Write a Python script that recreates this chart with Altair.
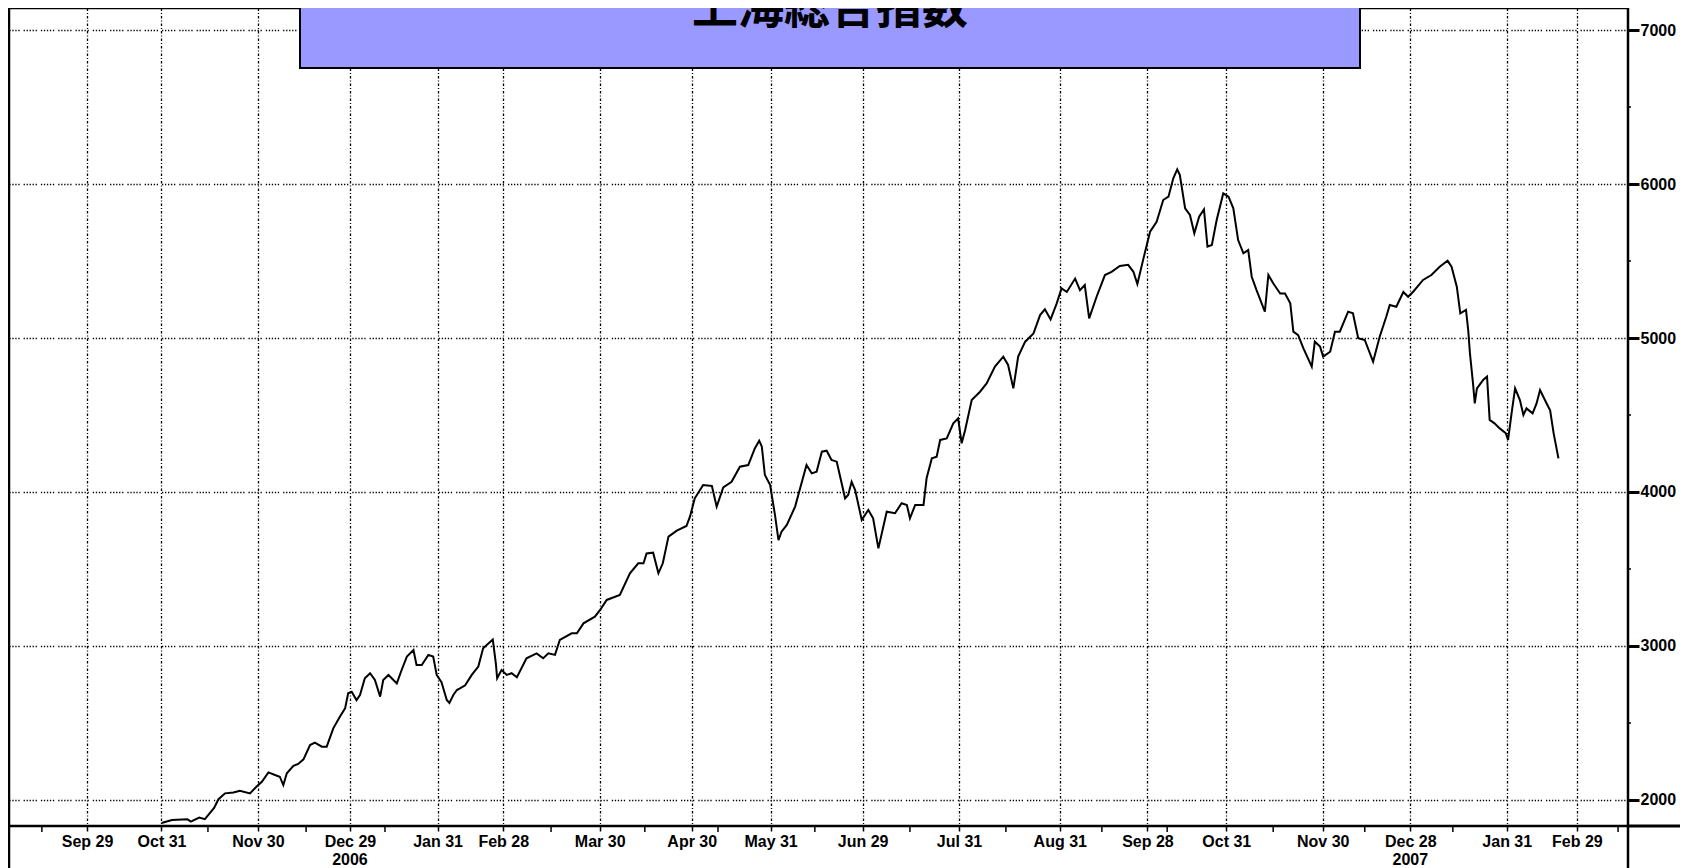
import altair as alt
import pandas as pd

# Trading-session index (0 = Sep 29 2006) and closing values
session = [17.0, 19.4, 22.9, 23.7, 25.6, 26.9, 29.0, 30.0, 31.5, 33.4, 34.9, 37.2, 38.7, 39.9, 41.4, 42.9,
           44.0, 44.8, 45.6, 47.1, 48.2, 49.4, 50.9, 52.0, 53.6, 54.7, 56.2, 57.7, 58.9, 59.6, 60.4, 61.5,
           62.3, 63.4, 64.6, 65.7, 66.9, 67.6, 68.8, 70.7, 71.8, 73.0, 74.5, 75.2, 76.4, 77.9, 79.0, 79.8,
           80.9, 82.1, 82.7, 83.6, 84.4, 85.1, 86.3, 87.8, 89.3, 90.4, 92.6, 93.3, 93.6, 94.6, 95.8, 96.9,
           98.1, 100.3, 102.6, 104.1, 105.3, 106.8, 107.9, 110.6, 111.8, 113.3, 115.9, 117.1, 118.6, 121.6,
           123.9, 125.8, 127.0, 127.7, 129.2, 130.4, 131.4, 132.7, 134.6, 136.8, 137.6, 138.7, 140.6, 142.6,
           143.7, 145.2, 147.1, 149.0, 150.9, 152.4, 153.4, 154.0, 154.7, 155.9, 157.0, 157.8, 158.5, 159.7,
           161.6, 164.2, 165.4, 166.5, 167.7, 168.8, 169.9, 171.1, 173.0, 173.7, 174.5, 175.3, 176.8, 178.3,
           179.4, 180.6, 182.5, 184.4, 185.9, 187.1, 187.8, 189.0, 190.9, 191.6, 192.8, 193.9, 194.7, 196.2,
           197.7, 198.8, 199.6, 200.4, 201.9, 203.8, 205.3, 207.2, 209.1, 210.2, 211.4, 212.5, 214.1, 216.0,
           217.5, 218.6, 219.9, 221.3, 222.4, 223.6, 225.5, 226.6, 227.7, 228.7, 230.4, 232.3, 233.8, 235.7,
           237.6, 238.8, 239.7, 241.1, 242.6, 244.1, 245.6, 246.8, 247.9, 248.8, 249.4, 250.6, 251.7, 252.7,
           253.8, 254.9, 255.7, 256.7, 257.8, 259.3, 260.5, 261.6, 262.7, 263.9, 265.0, 265.8, 266.9, 268.8,
           269.6, 270.7, 272.3, 273.4, 274.6, 275.3, 276.4, 277.6, 279.5, 280.2, 281.4, 282.1, 283.7, 284.8,
           285.9, 287.8, 288.9, 290.1, 291.6, 293.5, 295.0, 296.5, 297.3, 298.8, 300.4, 301.5, 302.6, 304.9,
           306.8, 308.7, 310.5, 311.4, 312.6, 313.4, 314.7, 315.2, 315.6, 316.3, 316.7, 317.2, 318.6, 319.5,
           320.1, 321.2, 322.4, 323.8, 324.3, 325.1, 325.9, 327.0, 327.8, 328.5, 329.9, 330.8, 331.6, 333.1,
           333.9, 334.7, 335.8]
close = [1850, 1870, 1875, 1859, 1886, 1875, 1948, 2005, 2043, 2049, 2060, 2043, 2087, 2118, 2179, 2162,
         2151, 2097, 2173, 2221, 2234, 2264, 2357, 2372, 2346, 2346, 2465, 2541, 2595, 2693, 2703, 2649,
         2682, 2790, 2823, 2779, 2671, 2779, 2812, 2757, 2844, 2931, 2974, 2877, 2877, 2942, 2931, 2812,
         2765, 2649, 2630, 2682, 2714, 2725, 2745, 2812, 2866, 2985, 3042, 2887, 2790, 2844, 2812, 2823,
         2797, 2920, 2952, 2920, 2952, 2942, 3039, 3082, 3082, 3147, 3190, 3234, 3299, 3331,
         3472, 3537, 3537, 3601, 3606, 3472, 3537, 3710, 3749, 3779, 3840, 3959, 4045, 4039,
         3905, 4030, 4066, 4164, 4175, 4283, 4333, 4294, 4110, 4045, 3851, 3688, 3742, 3786,
         3905, 4175, 4121, 4132, 4262, 4268, 4208, 4197, 3959, 3981, 4066, 4013, 3818, 3883,
         3829, 3634, 3872, 3862, 3927, 3916, 3829, 3916, 3916, 4089, 4219, 4229, 4338, 4348,
         4446, 4478, 4316, 4403, 4597, 4651, 4705, 4814, 4879, 4825, 4673, 4879, 4976, 5030,
         5149, 5186, 5121, 5225, 5322, 5299, 5386, 5311, 5344, 5127, 5268, 5409, 5430, 5468,
         5475, 5430, 5350, 5517, 5690, 5755, 5896, 5918, 6037, 6095, 6058, 5842, 5799, 5680,
         5788, 5835, 5593, 5604, 5766, 5939, 5918, 5842, 5636, 5550, 5571, 5398, 5311, 5171,
         5409, 5355, 5289, 5289, 5225, 5041, 5019, 4933, 4814, 4976, 4944, 4879, 4911, 5041,
         5041, 5171, 5160, 4998, 4987, 4846, 5008, 5138, 5214, 5203, 5299, 5268, 5299, 5377,
         5409, 5463, 5502, 5463, 5333, 5160, 5182, 5052, 4900, 4705, 4575, 4673, 4727, 4749,
         4468, 4446, 4413, 4381, 4338, 4511, 4673, 4597, 4500, 4543, 4511, 4575, 4662, 4575,
         4530, 4381, 4218]

tick_pos = [0, 17, 39, 60, 80, 95, 117, 138, 156, 177, 199, 222, 242, 260, 282, 302, 324, 340]
tick_lab = ["Sep 29", "Oct 31", "Nov 30", "Dec 29", "Jan 31", "Feb 28", "Mar 30", "Apr 30", "May 31",
            "Jun 29", "Jul 31", "Aug 31", "Sep 28", "Oct 31", "Nov 30", "Dec 28", "Jan 31", "Feb 29"]
minor_x = [-10.3, 27.6, 50.0, 68.0, 105.9, 127.3, 144.0, 166.1, 187.8, 209.7, 231.6, 246.5, 270.7,
           291.6, 311.7, 349.4]
year_pos = [60, 302]
year_lab = ["2006", "2007"]
y_ticks = [2000, 3000, 4000, 5000, 6000, 7000]
y_minor = [2500, 3500, 4500, 5500, 6500]
title_text = "上海総合指数"

W, H = 1620, 818
FONT = "Liberation Sans"
FS = 16

xs = alt.Scale(domain=[-18.03, 351.67], nice=False, zero=False)
ys = alt.Scale(domain=[1831, 7143], nice=False, zero=False)

lab_expr = "[" + ",".join("'%s'" % s for s in tick_lab) + "][indexof([" + \
    ",".join(str(v) for v in tick_pos) + "], datum.value)]"

x_axis = alt.Axis(
    orient="bottom", values=tick_pos, labelExpr=lab_expr, title=None, domain=False,
    grid=True, gridColor="black", gridOpacity=1, gridWidth=1.3, gridDash=[2.5, 2, 1, 2],
    ticks=True, tickColor="black", tickSize=5, tickWidth=1.5,
    labelFont=FONT, labelFontSize=FS, labelFontWeight="bold", labelColor="black", labelPadding=2,
    labelOverlap=False, labelFlush=False, labelBound=False)
y_axis = alt.Axis(
    orient="right", values=y_ticks, format="d", title=None, domain=False,
    grid=True, gridColor="black", gridOpacity=1, gridWidth=1.3,
    gridDash=[1.3, 1.7, 1.3, 1.7, 1.3, 1.7, 1.3, 1.7, 1.3, 4],
    ticks=True, tickColor="black", tickSize=11, tickWidth=3,
    labelFont=FONT, labelFontSize=FS, labelFontWeight="bold", labelColor="black", labelPadding=1,
    labelBaseline="middle")

df = pd.DataFrame({"session": session, "close": close})

line = alt.Chart(df).mark_line(color="black", strokeWidth=2, clip=True).encode(
    x=alt.X("session:Q", scale=xs, axis=x_axis, title=None),
    y=alt.Y("close:Q", scale=ys, axis=y_axis, title=None),
)

minor_x_rules = alt.Chart(pd.DataFrame({"m": minor_x})).mark_rule(
    color="black", strokeWidth=1.5).encode(
    x=alt.X("m:Q", scale=xs, axis=x_axis, title=None), y=alt.value(H), y2=alt.value(H + 6))

minor_y_rules = alt.Chart(pd.DataFrame({"m": y_minor})).mark_rule(
    color="black", strokeWidth=1.5).encode(
    y=alt.Y("m:Q", scale=ys, axis=y_axis, title=None), x=alt.value(W), x2=alt.value(W + 3))

years = alt.Chart(pd.DataFrame({"p": year_pos, "t": year_lab})).mark_text(
    font=FONT, fontSize=FS, fontWeight="bold", color="black", baseline="top", align="center").encode(
    x=alt.X("p:Q", scale=xs, axis=x_axis, title=None), y=alt.value(H + 26), text="t:N")

one = pd.DataFrame({"a": [0]})
frame_lines = [
    alt.Chart(one).mark_rule(color="black", strokeWidth=2.5).encode(
        x=alt.value(1), y=alt.value(0), y2=alt.value(H + 50)),
    alt.Chart(one).mark_rule(color="black", strokeWidth=2.5).encode(
        x=alt.value(W), y=alt.value(H), y2=alt.value(H + 50)),
    alt.Chart(one).mark_rule(color="black", strokeWidth=3).encode(
        x=alt.value(W), x2=alt.value(W + 58), y=alt.value(H)),
]

box = alt.Chart(one).mark_rect(fill="#9999ff", stroke="black", strokeWidth=2).encode(
    x=alt.value(292), x2=alt.value(1352), y=alt.value(-10), y2=alt.value(60))
title = alt.Chart(one).mark_text(
    text=title_text, font="Noto Sans CJK JP", fontSize=46, fontWeight="bold", color="black",
    align="center", baseline="alphabetic").encode(x=alt.value(822), y=alt.value(15))

chart = alt.layer(line, minor_x_rules, minor_y_rules, years, *frame_lines, box, title).properties(
    width=W, height=H,
    autosize=alt.AutoSizeParams(type="none"),
    padding={"left": 0, "top": 0, "right": 52, "bottom": 42},
).configure(background="white").configure_view(stroke="black", strokeWidth=2.5)

chart.save("out.html", embed_options={"renderer": "svg", "actions": False})
